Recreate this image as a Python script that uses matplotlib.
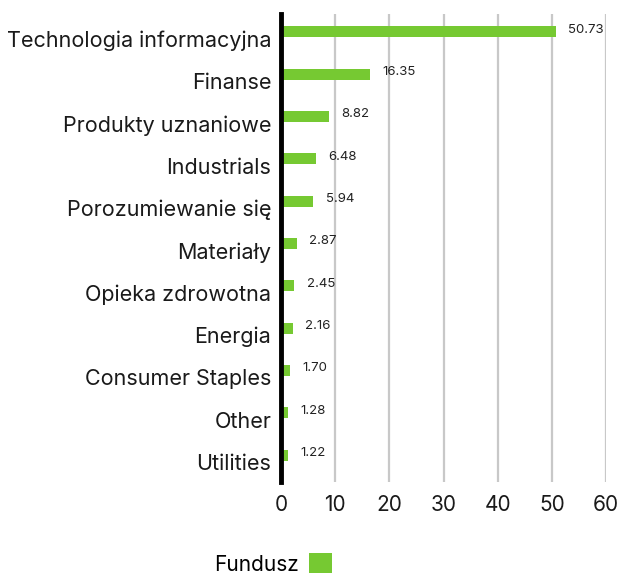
import matplotlib
matplotlib.use('Agg')
import matplotlib.pyplot as plt
import matplotlib.transforms as mtransforms
from matplotlib.patches import Patch

plt.rcParams['font.family'] = ['Inter', 'DejaVu Sans']

sectors = ['Technologia informacyjna', 'Finanse', 'Produkty uznaniowe', 'Industrials',
           'Porozumiewanie się', 'Materiały', 'Opieka zdrowotna', 'Energia',
           'Consumer Staples', 'Other', 'Utilities']
fund = [50.73, 16.35, 8.82, 6.48, 5.94, 2.87, 2.45, 2.16, 1.70, 1.28, 1.22]
xticks = [0, 10, 20, 30, 40, 50, 60]

green = '#76c932'

fig = plt.figure(figsize=(6.19, 5.76), dpi=100)
ax = fig.add_axes([0.454, 0.163, 0.525, 0.813])

pos = list(range(len(sectors)))
ax.barh(pos, fund, height=0.26, color=green, zorder=3)
for y, v in zip(pos, fund):
    ax.text(v + 2.3, y - 0.05, f'{v:.2f}', va='center', ha='left', fontsize=9.5, color='#222222')

ax.set_ylim(10.64, -0.425)
ax.set_xlim(0, 60)
ax.set_yticks(pos)
ax.set_yticklabels(sectors, fontsize=15.5, color='#1a1a1a')
ax.set_xticks(xticks)
ax.set_xticklabels([str(t) for t in xticks], fontsize=15, color='#1a1a1a')
ax.tick_params(axis='both', length=0)
ax.tick_params(axis='y', pad=7)
ax.tick_params(axis='x', pad=9)

# labels sit a bit below the bars in the original
shift = mtransforms.ScaledTranslation(0, -7 / 100, fig.dpi_scale_trans)
for lab in ax.get_yticklabels():
    lab.set_transform(lab.get_transform() + shift)

ax.grid(axis='x', color='#c8c8c8', linewidth=1.6, zorder=0)
for s in ['top', 'right', 'bottom']:
    ax.spines[s].set_visible(False)
ax.spines['left'].set_linewidth(3.5)
ax.spines['left'].set_color('black')
ax.spines['left'].set_zorder(4)

handles = [Patch(facecolor=green, label='Fundusz')]
fig.legend(handles=handles, loc='center', bbox_to_anchor=(273 / 619, 1 - 564 / 576),
           frameon=False, fontsize=15, markerfirst=False, handlelength=1.1,
           handleheight=1.1, handletextpad=0.5)

fig.savefig('out.png', dpi=100)
